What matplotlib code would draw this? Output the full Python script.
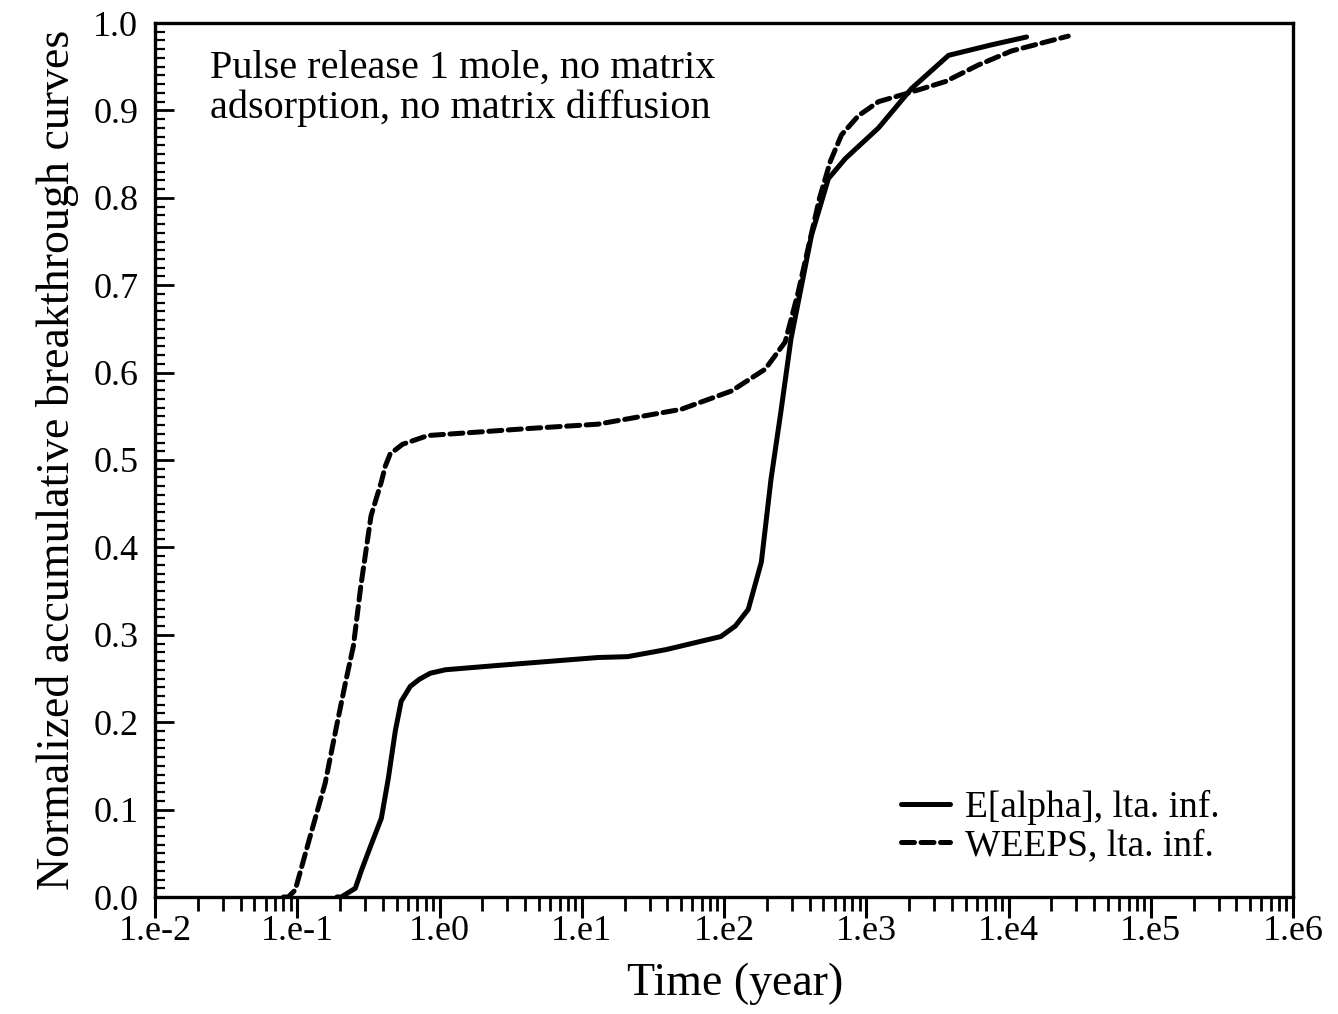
import matplotlib
matplotlib.use('Agg')
import matplotlib.pyplot as plt
from matplotlib.ticker import FixedLocator, LogLocator, MultipleLocator, NullFormatter

plt.rcParams['font.family'] = ['Liberation Serif', 'DejaVu Serif']

# E[alpha] curve (solid)
solid_t = [0.19, 0.204, 0.256, 0.282, 0.331, 0.39, 0.437, 0.489, 0.538, 0.623, 0.72, 0.86,
           1.1, 2.59, 13, 21, 39, 95, 120, 148, 183, 214, 251, 296, 412, 542, 714, 1220,
           2080, 3790, 7590, 13400]
solid_y = [0.0, 0.0, 0.01, 0.03, 0.06, 0.09, 0.136, 0.19, 0.224, 0.241, 0.249, 0.256,
           0.26, 0.265, 0.274, 0.275, 0.283, 0.298, 0.31, 0.329, 0.383, 0.478, 0.555, 0.639,
           0.757, 0.822, 0.845, 0.88, 0.925, 0.963, 0.975, 0.984]

# WEEPS curve (dashed)
dashed_t = [0.08, 0.0864, 0.0968, 0.125, 0.157, 0.185, 0.218, 0.248, 0.28, 0.33, 0.39, 0.416,
            0.45, 0.55, 0.83, 1.88, 4.2, 13, 50, 113, 195, 269, 330, 400, 470, 560, 670, 882,
            1220, 1983, 3600, 6150, 10500, 26300]
dashed_y = [0.0, 0.0, 0.008, 0.073, 0.13, 0.188, 0.245, 0.287, 0.356, 0.436, 0.475, 0.493,
            0.507, 0.518, 0.528, 0.532, 0.536, 0.541, 0.558, 0.579, 0.604, 0.635, 0.69, 0.75,
            0.80, 0.842, 0.872, 0.894, 0.91, 0.92, 0.933, 0.952, 0.968, 0.985]

x_ticks = [1e-2, 1e-1, 1e0, 1e1, 1e2, 1e3, 1e4, 1e5, 1e6]
x_tick_labels = ['1.e-2', '1.e-1', '1.e0', '1.e1', '1.e2', '1.e3', '1.e4', '1.e5', '1.e6']
y_ticks = [0.0, 0.1, 0.2, 0.3, 0.4, 0.5, 0.6, 0.7, 0.8, 0.9, 1.0]
y_tick_labels = ['0.0', '0.1', '0.2', '0.3', '0.4', '0.5', '0.6', '0.7', '0.8', '0.9', '1.0']

fig = plt.figure(figsize=(13.38, 10.14), dpi=100)
ax = fig.add_axes([155 / 1338, (1014 - 897) / 1014, (1293 - 155) / 1338, (897 - 23) / 1014])

ax.plot(solid_t, solid_y, color='black', lw=3.6, solid_capstyle='round',
        solid_joinstyle='round', label='E[alpha], lta. inf.')
ax.plot(dashed_t, dashed_y, color='black', lw=3.6, dashes=(2.6, 1.3),
        dash_capstyle='round', dash_joinstyle='round', label='WEEPS, lta. inf.')

ax.set_xscale('log')
ax.set_xlim(1e-2, 1e6)
ax.set_ylim(0.0, 1.0)

ax.xaxis.set_major_locator(FixedLocator(x_ticks))
ax.set_xticklabels(x_tick_labels)
ax.xaxis.set_minor_locator(LogLocator(base=10, subs=range(2, 10), numticks=20))
ax.xaxis.set_minor_formatter(NullFormatter())
ax.set_yticks(y_ticks)
ax.set_yticklabels(y_tick_labels)
ax.yaxis.set_minor_locator(MultipleLocator(0.01))

ax.tick_params(axis='x', which='major', direction='out', length=15, width=2.2,
               labelsize=26, pad=-2, top=False)
ax.tick_params(axis='x', which='minor', direction='out', length=10, width=2.0, top=False)
ax.tick_params(axis='y', which='major', direction='in', length=14, width=2.0,
               labelsize=26, pad=12, right=False)
ax.tick_params(axis='y', which='minor', direction='in', length=7, width=1.6, right=False)

for s in ax.spines.values():
    s.set_linewidth(2.4)

ax.set_xlabel('Time (year)', fontsize=33, labelpad=2)
ax.xaxis.set_label_coords(0.51, -0.075)
ax.set_ylabel('Normalized accumulative breakthrough curves', fontsize=33, labelpad=10)

ax.text(0.048, 0.97, 'Pulse release 1 mole, no matrix\nadsorption, no matrix diffusion',
        transform=ax.transAxes, fontsize=29, va='top', ha='left', linespacing=1.1)

ax.legend(loc='lower right', bbox_to_anchor=(0.965, 0.0), frameon=False, fontsize=27,
          handlelength=1.3, handletextpad=0.4, labelspacing=0.1)

fig.savefig('out.png', dpi=100)
